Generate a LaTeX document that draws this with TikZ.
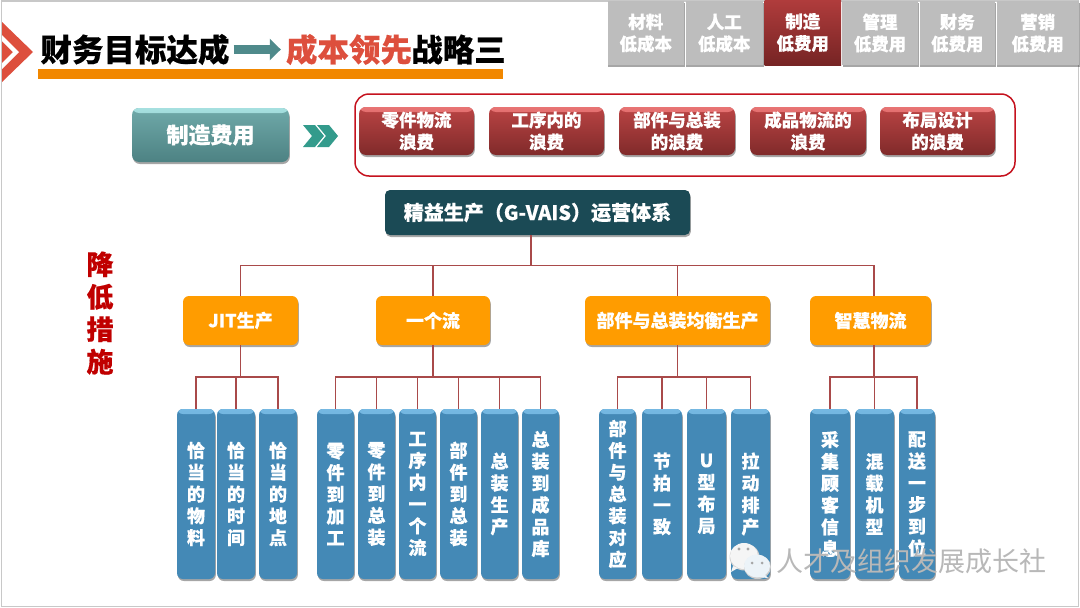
\documentclass[tikz,border=0pt]{standalone}
\usepackage{fontspec}
\setmainfont{Noto Sans CJK SC}[BoldFeatures={FakeBold=0.35}]
\usetikzlibrary{shadows,arrows.meta,calc}
\definecolor{frameline}{HTML}{C8C8C8}
\definecolor{chevred}{HTML}{DD4F3D}
\definecolor{titlered}{HTML}{DD4F3D}
\definecolor{barorange}{HTML}{F18700}
\definecolor{arrowteal}{HTML}{4F8A8B}
\definecolor{chevteal}{HTML}{339B8C}
\definecolor{tabgray}{HTML}{BDBDBD}
\definecolor{framered}{HTML}{C5121E}
\definecolor{headdark}{HTML}{1B4A55}
\definecolor{boxorange}{HTML}{FF9C00}
\definecolor{linered}{HTML}{A94A4A}
\definecolor{boxblue}{HTML}{4489B6}
\definecolor{bluegloss}{HTML}{75B8E2}
\definecolor{tipred}{HTML}{C00000}
\definecolor{tealtop}{HTML}{6FA9A9}
\definecolor{tealbot}{HTML}{4D8283}
\definecolor{tealgloss}{HTML}{A6E0E0}
\definecolor{redtop}{HTML}{BA4444}
\definecolor{redbot}{HTML}{802A2A}
\definecolor{redgloss}{HTML}{E87474}
\definecolor{tabtop}{HTML}{B03C3C}
\definecolor{tabbot}{HTML}{762424}
\tikzset{
  x=1pt,y=-1pt,
  boxbase/.style={inner sep=0pt,align=center,text=white,font=\bfseries\fontsize{17.5}{22}\selectfont},
  softshadow/.style={drop shadow={shadow xshift=0.8pt,shadow yshift=-2pt,opacity=0.35,fill=black}},
  gloss/.style n args={2}{path picture={
     \shade[top color=#1,bottom color=#2] (path picture bounding box.north west) rectangle ([yshift=-5pt]path picture bounding box.north east);}},
  tealbox/.style={boxbase,rounded corners=7pt,softshadow,top color=tealtop,bottom color=tealbot,gloss={tealgloss}{tealtop},font=\bfseries\fontsize{22}{26}\selectfont},
  redbox/.style={boxbase,rounded corners=7pt,softshadow,top color=redtop,bottom color=redbot,gloss={redgloss}{redtop}},
  tabbox/.style={boxbase,fill=tabgray,softshadow},
  tabon/.style={boxbase,top color=tabtop,bottom color=tabbot},
  headbox/.style={boxbase,rounded corners=5pt,fill=headdark,softshadow,font=\bfseries\fontsize{20}{24}\selectfont},
  orangebox/.style={boxbase,rounded corners=6pt,fill=boxorange,softshadow,font=\bfseries\fontsize{18}{22}\selectfont},
  bluebox/.style={boxbase,rounded corners=6pt,fill=boxblue,softshadow,gloss={bluegloss}{boxblue},font=\bfseries\fontsize{18}{21.8}\selectfont},
  conn/.style={draw=linered,line width=1.8pt},
  titletext/.style={inner sep=0pt,font=\bfseries\fontsize{31.5}{36}\selectfont},
}
\newcommand\boxat[7]{\node[#2,minimum width={(#5-#3)*1pt},minimum height={(#6-#4)*1pt}] (#1) at ({(#3+#5)/2},{(#4+#6)/2}) {#7};}
\begin{document}
\begin{tikzpicture}
\useasboundingbox (0,0) rectangle (1080,608);
\fill[white] (0,0) rectangle (1080,608);
\draw[frameline,line width=1.5pt] (1.5,1) rectangle (1078.5,606.5);
% corner chevron
\fill[chevred] (2,22) -- (33,52) -- (2,82) -- cycle;
\fill[white] (2,35) -- (19,52) -- (2,69) -- (2,63) -- (13,52) -- (2,41) -- cycle;
% title
\fill[barorange] (37.5,69) rectangle (503,79);
\node[titletext] (t1) at (135,49.5) {财务目标达成};
\node[titletext,text=titlered] (t2) at (349,49.5) {成本领先};
\node[titletext] (t3) at (458.5,49.5) {战略三};
\draw[arrowteal,line width=8.5pt,shorten <=4pt,shorten >=5pt,-{Triangle[length=11pt,width=21pt]}] (t1.east) -- (t2.west);
% tabs
\boxat{a1}{tabbox}{607.5}{1}{684}{65}{材料\\低成本}
\boxat{a2}{tabbox}{685.5}{1}{763}{65}{人工\\低成本}
\boxat{a4}{tabbox}{842}{1}{918}{65}{管理\\低费用}
\boxat{a5}{tabbox}{919.5}{1}{995}{65}{财务\\低费用}
\boxat{a6}{tabbox}{996.5}{1}{1079}{65}{营销\\低费用}
\boxat{a3}{tabon}{764.5}{0}{841}{65}{制造\\低费用}
% top row
\boxat{cost}{tealbox}{132}{108}{289}{162}{制造费用}
\fill[chevteal] (303,125) -- (315,125) -- (324,136) -- (315,147) -- (303,147) -- (312,136) -- cycle;
\fill[chevteal] (317,125) -- (329,125) -- (338,136) -- (329,147) -- (317,147) -- (326,136) -- cycle;
\draw[framered,line width=1.5pt,rounded corners=14pt] (355,94) rectangle (1015,176);
\boxat{w1}{redbox}{359}{107}{474}{155}{零件物流\\浪费}
\boxat{w2}{redbox}{489}{107}{604}{155}{工序内的\\浪费}
\boxat{w3}{redbox}{619}{107}{735}{155}{部件与总装\\的浪费}
\boxat{w4}{redbox}{750}{107}{866}{155}{成品物流的\\浪费}
\boxat{w5}{redbox}{880}{107}{995}{155}{布局设计\\的浪费}
% head
\boxat{head}{headbox}{385}{190}{690}{235}{精益生产（G-VAIS）运营体系}
% side label
\node[inner sep=0pt,align=center,text=tipred,font=\bfseries\fontsize{27}{32.5}\selectfont] (tip) at (100,313) {降\\低\\措\\施};
% orange row
\boxat{p1}{orangebox}{183}{296}{298}{345}{JIT生产}
\boxat{p2}{orangebox}{376}{296}{490}{345}{一个流}
\boxat{p3}{orangebox}{585}{296}{770}{345}{部件与总装均衡生产}
\boxat{p4}{orangebox}{810}{296}{931}{345}{智慧物流}
% blue row
\boxat{c11}{bluebox}{177}{409}{215}{579}{恰\\当\\的\\物\\料}
\boxat{c12}{bluebox}{217}{409}{255}{579}{恰\\当\\的\\时\\间}
\boxat{c13}{bluebox}{259}{409}{297}{579}{恰\\当\\的\\地\\点}
\boxat{c21}{bluebox}{317}{409}{354}{579}{零\\件\\到\\加\\工}
\boxat{c22}{bluebox}{358}{409}{395}{579}{零\\件\\到\\总\\装}
\boxat{c23}{bluebox}{399}{409}{436}{579}{工\\序\\内\\一\\个\\流}
\boxat{c24}{bluebox}{440}{409}{477}{579}{部\\件\\到\\总\\装}
\boxat{c25}{bluebox}{481}{409}{518}{579}{总\\装\\生\\产}
\boxat{c26}{bluebox}{522}{409}{559}{579}{总\\装\\到\\成\\品\\库}
\boxat{c31}{bluebox}{599}{409}{636}{579}{部\\件\\与\\总\\装\\对\\应}
\boxat{c32}{bluebox}{642}{409}{682}{579}{节\\拍\\一\\致}
\boxat{c33}{bluebox}{687}{409}{726}{579}{U\\型\\布\\局}
\boxat{c34}{bluebox}{731}{409}{770}{579}{拉\\动\\排\\产}
\boxat{c41}{bluebox}{810}{409}{850}{579}{采\\集\\顾\\客\\信\\息}
\boxat{c42}{bluebox}{855}{409}{894}{579}{混\\载\\机\\型}
\boxat{c43}{bluebox}{899}{409}{935}{579}{配\\送\\一\\步\\到\\位}
% connectors
\coordinate (trunk) at (531,235);
\coordinate (bus0) at (531,265.5);
\draw[conn] (trunk) -- (bus0);
\foreach \p in {p1,p2,p3}{\draw[conn] (bus0) -| (\p.north);}
\coordinate (p4top) at (874,296);
\coordinate (p4bot) at (874,345);
\draw[conn] (bus0) -| (p4top);
\coordinate (b1) at (p1.south |- 0,377);
\coordinate (b2) at (p2.south |- 0,377);
\coordinate (b3) at (p3.south |- 0,377);
\coordinate (b4) at (p4bot |- 0,377);
\draw[conn] (p1.south) -- (b1);
\draw[conn] (p2.south) -- (b2);
\draw[conn] (p3.south) -- (b3);
\draw[conn] (p4bot) -- (b4);
\foreach \c in {c11,c12,c13}{\draw[conn] (b1) -| (\c.north);}
\foreach \c in {c21,c22,c23,c24,c25,c26}{\draw[conn] (b2) -| (\c.north);}
\foreach \c in {c31,c32,c33,c34}{\draw[conn] (b3) -| (\c.north);}
\foreach \c in {c41,c42,c43}{\draw[conn] (b4) -| (\c.north);}
% watermark
\fill[gray!35] (744.5,557) ellipse (15pt and 13.5pt);
\fill[white!92!gray] (744,556) ellipse (14pt and 13pt);
\fill[white!92!gray] (733,566) -- (731,572) -- (738,568) -- cycle;
\fill[gray!40] (757.5,567) ellipse (13.5pt and 12pt);
\fill[white!90!boxblue] (757,566) ellipse (13pt and 11.5pt);
\fill[white!90!boxblue] (764,574) -- (768,578) -- (758,577) -- cycle;
\fill[gray!70] (739,549) circle (1.6pt) (748,549) circle (1.6pt) (752,563) circle (1.5pt) (762,563) circle (1.5pt);
\node[inner sep=0pt,text=black!28,font=\fontsize{27}{30}\selectfont] (mark) at (911.5,561) {人才及组织发展成长社};
\end{tikzpicture}
\end{document}
